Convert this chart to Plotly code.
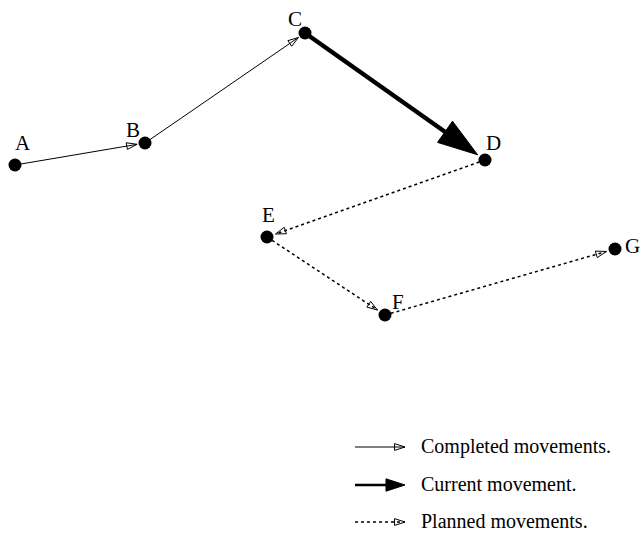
import plotly.graph_objects as go
import math

# Node data (positions in the diagram's plane)
names = ["A", "B", "C", "D", "E", "F", "G"]
xs = [15, 145, 305, 485, 267, 385, 615]
ys = [165, 143, 33, 160, 237, 315, 249]
label_dx = [8, -12, -10, 8, 1, 13, 17]
label_dy = [-22, -13, -14, -17, -22, -13, -3]

completed = [("A", "B"), ("B", "C")]
current = [("C", "D")]
planned = [("D", "E"), ("E", "F"), ("F", "G")]

legend_labels = ["Completed movements.", "Current movement.", "Planned movements."]
legend_x = [355, 405]
legend_y = [447, 485, 522]

W, H = 641, 539
pos = {n: (x, y) for n, x, y in zip(names, xs, ys)}

fig = go.Figure()


def arrow(p0, p1, gap, size, width, dash, symbol, gapline=None):
    dx, dy = p1[0] - p0[0], p1[1] - p0[1]
    L = math.hypot(dx, dy)
    ux, uy = dx / L, dy / L
    tip = (p1[0] - ux * gap, p1[1] - uy * gap)
    lend = tip if gapline is None else (tip[0] - ux * gapline, tip[1] - uy * gapline)
    fig.add_trace(go.Scatter(x=[p0[0], lend[0]], y=[p0[1], lend[1]], mode="lines",
                             line=dict(color="black", width=width, dash=dash),
                             hoverinfo="skip", showlegend=False))
    fig.add_trace(go.Scatter(x=[p0[0], tip[0]], y=[p0[1], tip[1]], mode="markers",
                             marker=dict(size=[0, size], symbol=symbol, angleref="previous",
                                         color="black", opacity=1,
                                         line=dict(color="black", width=1)),
                             hoverinfo="skip", showlegend=False))


for a, b in completed:
    arrow(pos[a], pos[b], 8, 11, 1, "solid", "arrow-open")
for a, b in current:
    arrow(pos[a], pos[b], 9, 42, 4.5, "solid", "arrow", gapline=24)
for a, b in planned:
    arrow(pos[a], pos[b], 9, 11, 1.5, "dot", "arrow-open")

# nodes
fig.add_trace(go.Scatter(x=xs, y=ys, mode="markers",
                         marker=dict(size=13, color="black"),
                         hoverinfo="skip", showlegend=False))
for n, x, y, ddx, ddy in zip(names, xs, ys, label_dx, label_dy):
    fig.add_annotation(x=x + ddx, y=y + ddy, text=n, showarrow=False,
                       font=dict(family="Liberation Serif", size=21, color="black"))

# legend
styles = [(1, "solid", 11, "arrow-open", None),
          (2.5, "solid", 20, "arrow", 10),
          (1.5, "dot", 11, "arrow-open", None)]
for ly, lab, (w, d, s, sym, gl) in zip(legend_y, legend_labels, styles):
    arrow((legend_x[0], ly), (legend_x[1], ly), 0, s, w, d, sym, gapline=gl)
    fig.add_annotation(x=419, y=ly - 1, text=lab, showarrow=False, xanchor="left",
                       font=dict(family="Liberation Serif", size=20, color="black"))

fig.update_layout(width=W, height=H, margin=dict(l=0, r=0, t=0, b=0),
                  plot_bgcolor="white", paper_bgcolor="white",
                  xaxis=dict(range=[0, W], visible=False, fixedrange=True),
                  yaxis=dict(range=[H, 0], visible=False, fixedrange=True))
fig.write_html("out.html", config={"displayModeBar": False},
               post_script="document.body.style.margin='0';")
